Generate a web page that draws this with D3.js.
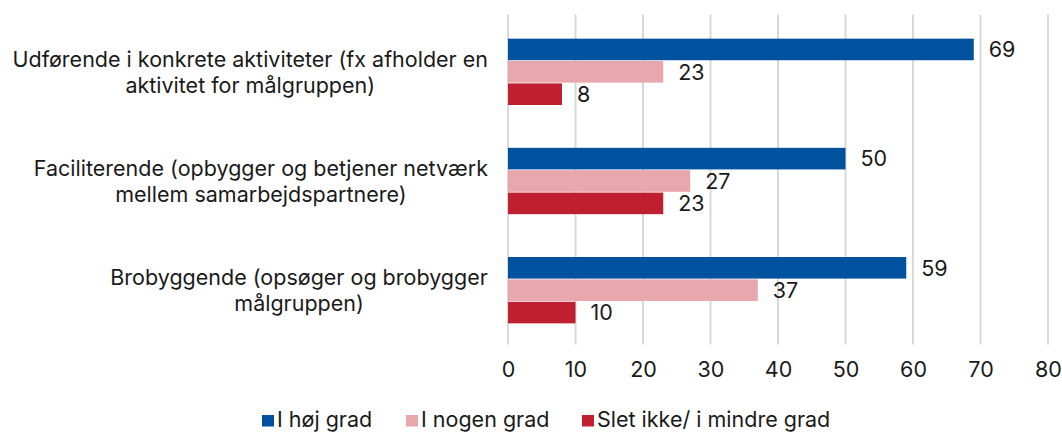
<!DOCTYPE html>
<html>
<head>
<meta charset="utf-8">
<script src="https://cdn.jsdelivr.net/npm/d3@7"></script>
<style>
  body { margin: 0; background: #fff; }
  svg text { font-family: "Inter", sans-serif; fill: #1a1a1a; }
</style>
</head>
<body>
<div id="chart"></div>
<script>
// Categories (each split into lines as in the original)
const categories = [
  ["Udførende i konkrete aktiviteter (fx afholder en", "aktivitet for målgruppen)"],
  ["Faciliterende (opbygger og betjener netværk", "mellem samarbejdspartnere)"],
  ["Brobyggende (opsøger og brobygger", "målgruppen)"]
];
const seriesNames = ["I høj grad", "I nogen grad", "Slet ikke/ i mindre grad"];
const hojGrad = [69, 50, 59];
const nogenGrad = [23, 27, 37];
const sletIkke = [8, 23, 10];
const xTicks = [0, 10, 20, 30, 40, 50, 60, 70, 80];
const colors = ["#00519e", "#e8a6ad", "#c01f31"];

const width = 1062, height = 432;
const margin = { top: 17.5, left: 508 };
const plotH = 327;
const fontSize = 21.5;
const labelRight = 488;

const svg = d3.select("#chart").append("svg")
  .attr("width", width)
  .attr("height", height);

const g = svg.append("g")
  .attr("transform", `translate(${margin.left},${margin.top})`);

const x = d3.scaleLinear().domain([0, 80]).range([0, 540]);
const y = d3.scaleBand().domain(d3.range(categories.length)).range([0, plotH]).paddingInner(0.385).paddingOuter(0.19);
const sub = d3.scaleBand().domain(d3.range(seriesNames.length)).range([0, y.bandwidth()]);

// Gridlines
g.selectAll(".grid")
  .data(xTicks)
  .enter().append("line")
  .attr("x1", d => x(d)).attr("x2", d => x(d))
  .attr("y1", -3).attr("y2", plotH)
  .attr("stroke", "#d9d9d9")
  .attr("stroke-width", 2);

// Bars
const series = [hojGrad, nogenGrad, sletIkke];
series.forEach((vals, si) => {
  g.selectAll(".bar" + si)
    .data(vals)
    .enter().append("rect")
    .attr("x", x(0))
    .attr("y", (d, i) => y(i) + sub(si) + 0.4)
    .attr("width", d => x(d) - x(0))
    .attr("height", sub.bandwidth() - 0.8)
    .attr("fill", colors[si]);

  g.selectAll(".lbl" + si)
    .data(vals)
    .enter().append("text")
    .attr("x", d => x(d) + 15)
    .attr("y", (d, i) => y(i) + sub(si) + sub.bandwidth() / 2)
    .attr("dy", "0.36em")
    .attr("font-size", fontSize)
    .text(d => d);
});

// X axis labels
const xAxis = d3.axisBottom(x).tickValues(xTicks).tickSize(0).tickPadding(17);
const ax = g.append("g")
  .attr("transform", `translate(0,${plotH})`)
  .call(xAxis);
ax.select(".domain").remove();
ax.selectAll("text")
  .attr("font-size", fontSize)
  .attr("fill", "#1a1a1a");

// Category labels: lines centred on each other, block right-aligned
categories.forEach((lines, i) => {
  const cy = y(i) + y.bandwidth() / 2;
  const t = g.append("text")
    .attr("text-anchor", "middle")
    .attr("font-size", fontSize)
    .attr("y", cy - 13 * (lines.length - 1));
  const spans = lines.map((ln, k) => t.append("tspan")
    .attr("dy", k === 0 ? "0.36em" : 26)
    .text(ln));
  const maxW = d3.max(spans, s => s.node().getComputedTextLength());
  const cx = labelRight - maxW / 2 - margin.left;
  spans.forEach(s => s.attr("x", cx));
});

// Legend (baseline aligned with the bottom of the swatch)
const legendX = [262, 406, 582];
const legend = svg.append("g").attr("transform", "translate(0,426.5)");
seriesNames.forEach((name, i) => {
  legend.append("rect")
    .attr("x", legendX[i]).attr("y", -11.5)
    .attr("width", 12).attr("height", 11.5)
    .attr("fill", colors[i]);
  legend.append("text")
    .attr("x", legendX[i] + 15)
    .attr("y", 0)
    .attr("font-size", fontSize)
    .text(name);
});
</script>
</body>
</html>
